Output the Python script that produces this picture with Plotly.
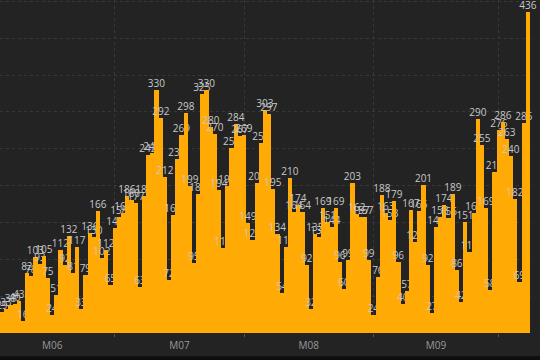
import datetime as dt
import plotly.graph_objects as go

start_date = "2021-06-04"
values = [29, 33, 38, 40, 43, 16, 82, 78, 103, 93, 105, 75, 24, 51, 112, 92,
          132, 81, 117, 33, 79, 136, 130, 166, 102, 112, 65, 143, 158, 163, 186, 180,
          177, 63, 186, 242, 245, 330, 292, 212, 72, 160, 236, 269, 298, 199,
          95, 189, 325, 330, 280, 270, 194, 115, 199, 251, 284, 267, 269, 149,
          126, 203, 258, 303, 297, 195, 134, 54, 117, 210, 164, 174, 164, 92,
          32, 135, 130, 169, 151, 144, 169, 96, 60, 99, 203, 162, 157, 157,
          99, 24, 76, 188, 163, 153, 179, 96, 40, 57, 167, 124, 166, 201,
          92, 27, 144, 158, 174, 156, 189, 86, 42, 151, 110, 163, 290, 255,
          169, 58, 219, 276, 286, 263, 240, 182, 69, 285, 436]

d0 = dt.date.fromisoformat(start_date)
dates = [d0 + dt.timedelta(days=i) for i in range(len(values))]

fig = go.Figure(go.Bar(
    x=dates, y=values,
    text=[str(v) for v in values],
    textposition="outside",
    constraintext="none",
    cliponaxis=False,
    textfont=dict(color="#c8c8c8", size=10, family="Open Sans"),
    marker=dict(color="#FFAA05", line=dict(width=0)),
))

x0 = dt.datetime.combine(d0, dt.time()) - dt.timedelta(hours=12)
x1 = dt.datetime.combine(dates[-1], dt.time()) + dt.timedelta(hours=24)

fig.update_layout(
    width=540, height=360,
    margin=dict(l=0, r=8, t=0, b=27, autoexpand=False),
    paper_bgcolor="#232323", plot_bgcolor="#232323",
    bargap=0, showlegend=False,
    xaxis=dict(range=[x0, x1], type="date", dtick="M1", tickformat="M%m",
               ticklabelmode="period", ticks="outside", ticklen=3,
               tickcolor="#555555", showgrid=True, gridcolor="#383838",
               griddash="dot", gridwidth=1, zeroline=False, automargin=False,
               tickfont=dict(color="#9a9a9a", size=10, family="Open Sans")),
    yaxis=dict(range=[0, 452], dtick=50, showgrid=True, gridcolor="#383838",
               griddash="dot", gridwidth=1, showticklabels=False, zeroline=False,
               automargin=False),
    shapes=[dict(type="rect", xref="paper", yref="paper", x0=-0.02, x1=1.03,
                 y0=-0.085, y1=-0.07, fillcolor="#0e0e0e", line=dict(width=0),
                 layer="above")],
)

fig.write_html("out.html",
               config={"displayModeBar": False},
               post_script="document.body.style.margin='0';document.body.style.background='#232323';")
